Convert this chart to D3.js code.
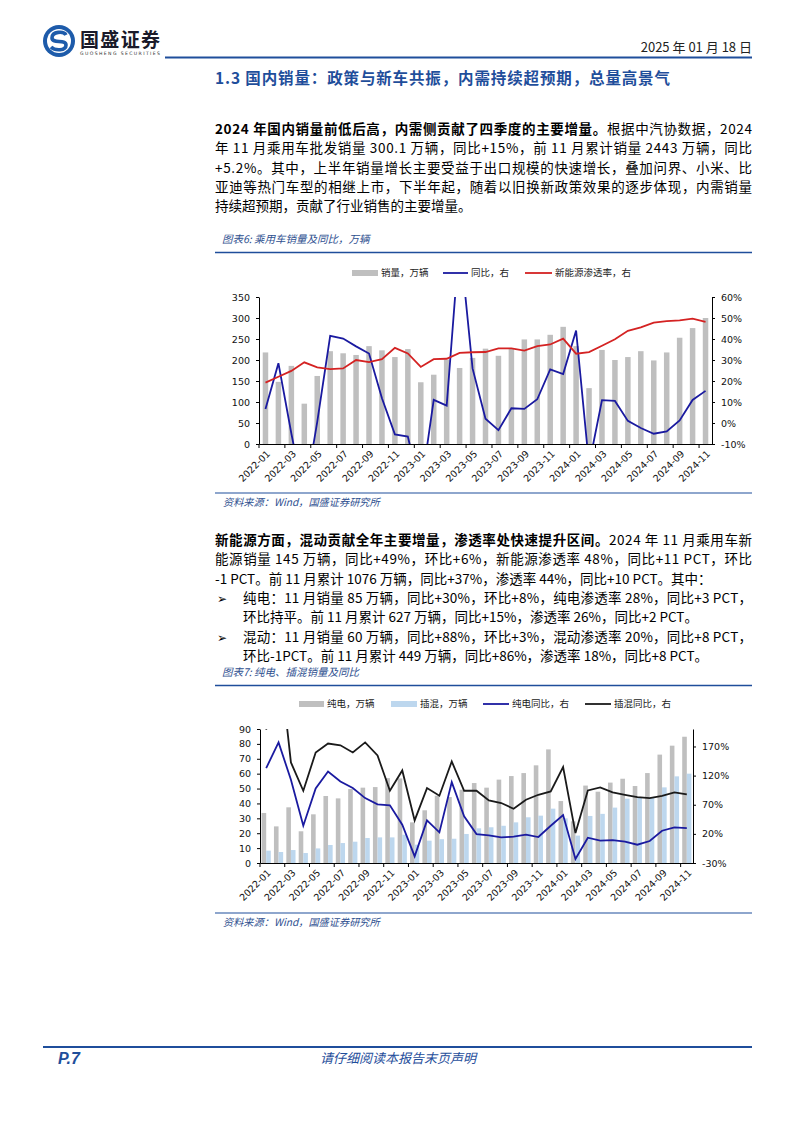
<!DOCTYPE html>
<html><head><meta charset="utf-8">
<script src="https://cdn.jsdelivr.net/npm/d3@7"></script>
<style>
body{margin:0;background:#fff;}
svg{display:block}
</style></head><body>
<svg id="page" width="794" height="1123"></svg>
<script>
// ---------------- DATA ----------------
const months = ["2022-01","2022-02","2022-03","2022-04","2022-05","2022-06","2022-07","2022-08","2022-09","2022-10","2022-11","2022-12",
"2023-01","2023-02","2023-03","2023-04","2023-05","2023-06","2023-07","2023-08","2023-09","2023-10","2023-11","2023-12",
"2024-01","2024-02","2024-03","2024-04","2024-05","2024-06","2024-07","2024-08","2024-09","2024-10","2024-11"];
const monthLabels = months.filter((m,i)=>i%2===0);

// Chart 1: 乘用车销量（万辆）, 同比(%), 新能源渗透率(%)
const sales = [218,148,186,96,162,221,216,212,233,223,207,226,147,165,201,181,205,227,210,228,249,249,260,279,233,133,224,200,207,221,199,218,253,276,300];
const salesYoy = [6.7,28.5,-5,-36,0.5,41.5,40.2,36.5,33.1,11.8,-5.4,-6.5,-32,11,8.3,88,26,2,-3.4,7,6.7,11.3,25.5,23.3,44,-20,10.9,10.5,1,-2.4,-5.1,-4,1.2,11,15.3];
const nevRate = [19.2,22,24.8,28.9,26.5,25.7,26,30,29,30.4,35.8,33.1,26.7,30.4,30.6,33.4,33.7,33.8,35.5,35.5,34.5,36.6,37.4,40.2,33,33.8,36.8,39.9,43.9,45.5,47.8,48.5,48.9,49.7,48.1];
const c1LeftTicks = [0,50,100,150,200,250,300,350];
const c1RightTicks = [-10,0,10,20,30,40,50,60];

// Chart 2: 纯电、插混（万辆）及同比(%)
const bev = [33.6,24.6,37.4,21.3,32.7,45,43.4,49.7,50.6,51,57,56.8,27.3,35.4,45.2,44.3,49.2,53.7,50.6,56,58.4,60.4,65.6,76.3,41.6,28,52,47.9,54,56.6,51.7,60.4,72.8,78.8,84.8];
const phev = [8.3,7.4,8.7,6.7,9.8,12.1,13.4,14.3,16.8,17.2,17.2,19,12.3,15,16,16.3,19.5,23.3,24,25,27.3,30.7,31.8,36.5,30,18.4,31.6,33,37.2,43.2,44,44,50.8,58.2,60];
const bevYoy = [132.9,176.9,112.9,34,98,127,110,98.6,81.4,70.6,68.9,35.7,-18.6,43,22.6,108.9,50,19.7,17.4,14,15.1,18.6,14.6,34,52.3,-23,13.4,8.3,9.4,6.6,1.4,7.7,25.4,31.1,30];
const phevYoy = [199,335,142.6,94,159.7,175,172,159.7,177,154.6,94,128.9,43.1,98.6,85.4,144.3,94,94,77.4,72.9,63.1,78.6,87.1,92.9,134.6,21.4,94.6,99.7,91.1,87.1,83.1,81.4,85.4,91.1,87.7];
const c2LeftTicks = [0,10,20,30,40,50,60,70,80,90];
const c2RightTicks = [-30,20,70,120,170];

// Text content
const para1 = [
  [["2024 年国内销量前低后高，内需侧贡献了四季度的主要增量。",true],["根据中汽协数据，2024",false]],
  [["年 11 月乘用车批发销量 300.1 万辆，同比+15%，前 11 月累计销量 2443 万辆，同比",false]],
  [["+5.2%。其中，上半年销量增长主要受益于出口规模的快速增长，叠加问界、小米、比",false]],
  [["亚迪等热门车型的相继上市，下半年起，随着以旧换新政策效果的逐步体现，内需销量",false]],
  [["持续超预期，贡献了行业销售的主要增量。",false]]
];
const para2 = [
  [["新能源方面，混动贡献全年主要增量，渗透率处快速提升区间。",true],["2024 年 11 月乘用车新",false]],
  [["能源销量 145 万辆，同比+49%，环比+6%，新能源渗透率 48%，同比+11 PCT，环比",false]],
  [["-1 PCT。前 11 月累计 1076 万辆，同比+37%，渗透率 44%，同比+10 PCT。其中：",false]]
];
const bullets = [
  ["纯电：11 月销量 85 万辆，同比+30%，环比+8%，纯电渗透率 28%，同比+3 PCT，","环比持平。前 11 月累计 627 万辆，同比+15%，渗透率 26%，同比+2 PCT。"],
  ["混动：11 月销量 60 万辆，同比+88%，环比+3%，混动渗透率 20%，同比+8 PCT，","环比-1PCT。前 11 月累计 449 万辆，同比+86%，渗透率 18%，同比+8 PCT。"]
];

// ---------------- DRAW ----------------
const svg = d3.select("#page");
const CJK = "'Noto Sans CJK SC', sans-serif";
const NUM = "'DejaVu Sans', sans-serif";
const BRAND = "#1F4E9B";
const TITLEC = "#2E4F8F";

function fit(sel, width){
  const n = sel.text().length;
  const len = sel.node().getComputedTextLength();
  if(n>1) sel.attr("letter-spacing", (width-len)/(n-1));
}
function textLine(x, y, parts, size, width){
  const t = svg.append("text").attr("x",x).attr("y",y).attr("font-family",CJK).attr("font-size",size).attr("fill","#000");
  parts.forEach(p=>t.append("tspan").attr("font-weight",p[1]?"bold":"normal").text(p[0]));
  if(width) fit(t,width);
  return t;
}

// Header
const logo = svg.append("g").attr("transform","translate(59,41)");
logo.append("circle").attr("r",16).attr("fill","#1D5BAA");
logo.append("circle").attr("r",12).attr("fill","#fff");
logo.append("path").attr("d","M7,-6 C5,-10 -7,-10 -7,-3 C-7,3 7,-2 7,4 C7,10 -4,10 -8,6")
  .attr("fill","none").attr("stroke","#1D5BAA").attr("stroke-width",3.6);
svg.append("text").attr("x",80).attr("y",47).attr("font-family",CJK).attr("font-weight","bold")
  .attr("font-size",19).attr("fill","#1a1a2a").text("国盛证券").call(s=>fit(s,80));
svg.append("text").attr("x",80).attr("y",55).attr("font-family",NUM).attr("font-size",4.6)
  .attr("fill","#333").text("GUOSHENG SECURITIES").call(s=>fit(s,80));
svg.append("text").attr("x",752).attr("y",52).attr("text-anchor","end").attr("font-family",CJK)
  .attr("font-size",13).attr("fill","#222").text("2025 年 01 月 18 日");
svg.append("line").attr("x1",165).attr("x2",752).attr("y1",57.5).attr("y2",57.5).attr("stroke",BRAND).attr("stroke-width",2);

// Section heading
svg.append("text").attr("x",215).attr("y",84).attr("font-family",CJK).attr("font-weight","bold")
  .attr("font-size",15.5).attr("fill",BRAND).text("1.3 国内销量：政策与新车共振，内需持续超预期，总量高景气").call(s=>fit(s,455));

// Paragraph 1
const pw = 537;
para1.forEach((l,i)=>textLine(215, 134+i*19.3, l, 13.5, i<para1.length-1?pw:null));
// Paragraph 2
para2.forEach((l,i)=>textLine(215, 545+i*19.3, l, 13.5, i<para2.length-1?pw:null));
bullets.forEach((b,j)=>{
  const y0 = 545+(3+j*2)*19.3;
  svg.append("text").attr("x",217).attr("y",y0).attr("font-family",NUM).attr("font-size",12).text("➢");
  textLine(243, y0, [[b[0],false]], 13.5, 509);
  textLine(243, y0+19.3, [[b[1],false]], 13.5, null);
});

// chart frame helpers
function chartTitle(y, txt){
  svg.append("text").attr("x",222).attr("y",y).attr("font-family",CJK).attr("font-style","italic")
    .attr("font-size",10.5).attr("fill",TITLEC).text(txt);
  svg.append("line").attr("x1",215).attr("x2",752).attr("y1",y+9.5).attr("y2",y+9.5).attr("stroke",BRAND).attr("stroke-width",1.6);
}
function source(y){
  svg.append("line").attr("x1",215).attr("x2",752).attr("y1",y).attr("y2",y).attr("stroke",BRAND).attr("stroke-width",1.2);
  svg.append("text").attr("x",223).attr("y",y+13).attr("font-family",CJK).attr("font-style","italic")
    .attr("font-size",10.2).attr("fill",TITLEC).text("资料来源：Wind，国盛证券研究所");
}
function legendRect(x,y,w,color,label){
  svg.append("rect").attr("x",x).attr("y",y-3).attr("width",w).attr("height",6).attr("fill",color);
  svg.append("text").attr("x",x+w+3).attr("y",y+3.3).attr("font-family",CJK).attr("font-size",9.5).attr("fill","#222").text(label);
}
function legendLine(x,y,w,color,label){
  svg.append("line").attr("x1",x).attr("x2",x+w).attr("y1",y).attr("y2",y).attr("stroke",color).attr("stroke-width",1.8);
  svg.append("text").attr("x",x+w+3).attr("y",y+3.3).attr("font-family",CJK).attr("font-size",9.5).attr("fill","#222").text(label);
}
function axes(x, yL, yR, lt, rt, left, right, top, bottom, leftFmt, rightFmt){
  const gl = svg.append("g").attr("transform",`translate(${left},0)`)
    .call(d3.axisLeft(yL).tickValues(lt).tickSize(3).tickSizeOuter(0).tickPadding(6).tickFormat(leftFmt));
  const gr = svg.append("g").attr("transform",`translate(${right},0)`)
    .call(d3.axisRight(yR).tickValues(rt).tickSize(3).tickSizeOuter(0).tickPadding(6).tickFormat(rightFmt));
  const gb = svg.append("g").attr("transform",`translate(0,${bottom})`)
    .call(d3.axisBottom(x).tickValues(monthLabels).tickSize(0).tickSizeOuter(0));
  gb.selectAll(".tick text").attr("y",0).attr("dy","0.35em").attr("text-anchor","end")
    .attr("transform","translate(3,8) rotate(-45)");
  gb.selectAll(".bnd").data(monthLabels).enter().append("line")
    .attr("x1",d=>x(d)).attr("x2",d=>x(d)).attr("y1",0).attr("y2",4).attr("stroke","#000");
  [gl,gr,gb].forEach(g=>{
    g.selectAll("text").attr("font-family",NUM).attr("font-size",9.5).attr("fill","#111");
    g.selectAll("path,line").attr("stroke","#000");
  });
}

// ---------- Chart 1 ----------
chartTitle(243, "图表6: 乘用车销量及同比，万辆");
legendRect(352,273,26,"#BFBFBF","销量，万辆");
legendLine(443,273,25,"#1A1AA0","同比，右");
legendLine(525,273,27,"#D42222","新能源渗透率，右");
{
  const L=259,R=712,T=297,B=444;
  const x = d3.scaleBand().domain(months).range([L,R]);
  const yL = d3.scaleLinear().domain([0,350]).range([B,T]);
  const yR = d3.scaleLinear().domain([-10,60]).range([B,T]);
  svg.append("defs").append("clipPath").attr("id","clip1").append("rect").attr("x",L).attr("y",T).attr("width",R-L).attr("height",B-T);
  const bw = 5.5;
  svg.append("g").selectAll("rect").data(sales).enter().append("rect")
    .attr("x",(d,i)=>x(months[i])+x.bandwidth()/2-bw/2).attr("width",bw)
    .attr("y",d=>yL(d)).attr("height",d=>B-yL(d)).attr("fill","#BFBFBF");
  const line = d3.line().x((d,i)=>x(months[i])+x.bandwidth()/2).y(d=>yR(d));
  const g = svg.append("g").attr("clip-path","url(#clip1)");
  g.append("path").attr("d",line(salesYoy)).attr("fill","none").attr("stroke","#1A1AA0").attr("stroke-width",1.8);
  g.append("path").attr("d",line(nevRate)).attr("fill","none").attr("stroke","#D42222").attr("stroke-width",1.8);
  axes(x,yL,yR,c1LeftTicks,c1RightTicks,L,R,T,B,d=>d,d=>d+"%");
}
source(493);

// ---------- Chart 2 ----------
chartTitle(676, "图表7: 纯电、插混销量及同比");
legendRect(299,704,25,"#BFBFBF","纯电，万辆");
legendRect(391,704,26,"#BDD7EE","插混，万辆");
legendLine(483,704,26,"#1A1AA0","纯电同比，右");
legendLine(585,704,26,"#1A1A1A","插混同比，右");
{
  const L=260,R=693,T=729,B=863;
  const x = d3.scaleBand().domain(months).range([L,R]);
  const yL = d3.scaleLinear().domain([0,90]).range([B,T]);
  const yR = d3.scaleLinear().domain([-30,200]).range([B,T]);
  svg.select("defs").append("clipPath").attr("id","clip2").append("rect").attr("x",L).attr("y",T).attr("width",R-L).attr("height",B-T);
  const bw = 4.6;
  svg.append("g").selectAll("rect").data(bev).enter().append("rect")
    .attr("x",(d,i)=>x(months[i])+x.bandwidth()/2-bw).attr("width",bw)
    .attr("y",d=>yL(d)).attr("height",d=>B-yL(d)).attr("fill","#BFBFBF");
  svg.append("g").selectAll("rect").data(phev).enter().append("rect")
    .attr("x",(d,i)=>x(months[i])+x.bandwidth()/2).attr("width",bw)
    .attr("y",d=>yL(d)).attr("height",d=>B-yL(d)).attr("fill","#BDD7EE");
  const line = d3.line().x((d,i)=>x(months[i])+x.bandwidth()/2).y(d=>yR(d));
  const g = svg.append("g").attr("clip-path","url(#clip2)");
  g.append("path").attr("d",line(bevYoy)).attr("fill","none").attr("stroke","#1A1AA0").attr("stroke-width",1.8);
  g.append("path").attr("d",line(phevYoy)).attr("fill","none").attr("stroke","#1A1A1A").attr("stroke-width",1.8);
  axes(x,yL,yR,c2LeftTicks,c2RightTicks,L,R,T,B,d=>d,d=>d+"%");
}
source(913);

// Footer
svg.append("line").attr("x1",43).attr("x2",752).attr("y1",1047).attr("y2",1047).attr("stroke",BRAND).attr("stroke-width",2);
svg.append("text").attr("x",58).attr("y",1064).attr("font-family","'Liberation Sans', sans-serif").attr("font-weight","bold")
  .attr("font-style","italic").attr("font-size",16).attr("fill",BRAND).text("P.7");
svg.append("text").attr("x",398).attr("y",1063).attr("text-anchor","middle").attr("font-family",CJK)
  .attr("font-style","italic").attr("font-size",13).attr("fill",BRAND).text("请仔细阅读本报告末页声明");
</script>
</body></html>
